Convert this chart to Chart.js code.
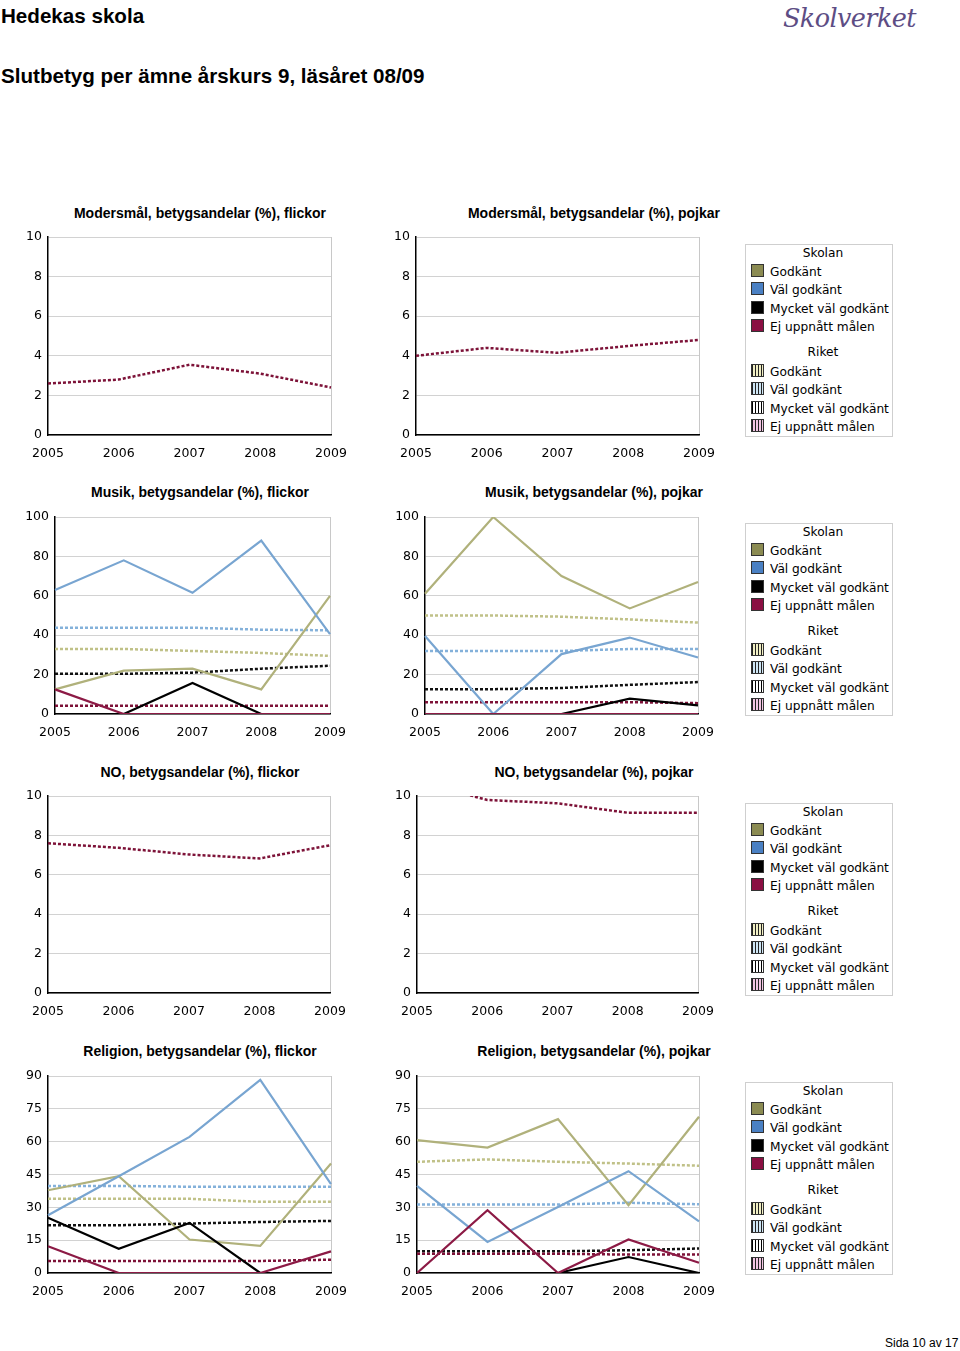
<!DOCTYPE html>
<html>
<head>
<meta charset="utf-8">
<script src="https://cdn.jsdelivr.net/npm/chart.js@4/dist/chart.umd.min.js"></script>
<style>
  body { margin: 0; background: #fff; width: 960px; height: 1351px; position: relative; overflow: hidden;
         font-family: "Liberation Sans", Arial, sans-serif; color: #000; }
  .abs { position: absolute; }
  .head { left: 1px; top: 4px; font-weight: bold; font-size: 20.6px; }
  .title { left: 1px; top: 64px; font-weight: bold; font-size: 20.6px; }
  .logo { left: 783px; top: 3px; font-family: "DejaVu Serif", serif; font-style: italic; font-size: 25.5px;
          color: #5d4d84; letter-spacing: -0.6px; }
  .ctitle { font-weight: bold; font-size: 14px; width: 340px; text-align: center; white-space: nowrap; }
  .foot { left: 885px; top: 1336px; font-size: 12px; }
  .legend { left: 745px; width: 146px; height: 191px; border: 1px solid #cfcfcf;
            font-family: "DejaVu Sans", sans-serif; font-size: 12.2px; }
  .legend .hdr { position: absolute; left: 4px; width: 146px; text-align: center; }
  .legend .it { position: absolute; left: 5px; white-space: nowrap; }
  .legend .sw { display: inline-block; width: 11px; height: 11px; border: 1px solid #333;
                vertical-align: -1px; margin-right: 6px; }
  canvas { position: absolute; }
</style>
</head>
<body>
<div class="abs head">Hedekas skola</div>
<div class="abs logo">Skolverket</div>
<div class="abs title">Slutbetyg per ämne årskurs 9, läsåret 08/09</div>
<div class="abs foot">Sida 10 av 17</div>

<script>
// --- data ---
const years = ["2005", "2006", "2007", "2008", "2009"];

// Modersmål
const modF_riketEj = [2.6, 2.8, 3.55, 3.1, 2.4];
const modP_riketEj = [4.0, 4.4, 4.15, 4.5, 4.8];

// Musik, flickor
const musF_skolanG   = [12.5, 22, 23, 12.5, 60];
const musF_skolanVG  = [63, 78, 61.5, 88, 40.5];
const musF_skolanMVG = [0, 0, 15.7, 0, 0];
const musF_skolanEj  = [12.5, 0, 0, 0, 0];
const musF_riketG    = [33, 33, 32, 31, 29.5];
const musF_riketVG   = [43.8, 43.8, 43.8, 42.8, 42.5];
const musF_riketMVG  = [20.4, 20.4, 21, 23, 24.5];
const musF_riketEj   = [4.2, 4.2, 4.2, 4.2, 4.2];

// Musik, pojkar
const musP_skolanG   = [61, 100, 70, 53.6, 67];
const musP_skolanVG  = [39.6, 0, 30.4, 38.8, 28.7];
const musP_skolanMVG = [0, 0, 0, 7.8, 4.4];
const musP_skolanEj  = [0, 0, 0, 0, 0];
const musP_riketG    = [50, 50, 49.4, 48, 46.4];
const musP_riketVG   = [32, 32, 32, 33, 33];
const musP_riketMVG  = [12.6, 12.6, 13.2, 14.8, 16.2];
const musP_riketEj   = [6, 6, 6, 6, 5.5];

// NO
const noF_riketEj = [7.6, 7.37, 7.03, 6.83, 7.5];
const noP_riketEj = [10.75, 9.8, 9.63, 9.15, 9.15];

// Religion, flickor
const relF_skolanG   = [37.8, 44.2, 15.3, 12.4, 50];
const relF_skolanVG  = [26.4, 44.2, 62.2, 88.2, 40.6];
const relF_skolanMVG = [25.2, 11.1, 22.9, 0, 0];
const relF_skolanEj  = [12.2, 0, 0, 0, 9.9];
const relF_riketG    = [33.9, 33.9, 33.9, 32.5, 32.5];
const relF_riketVG   = [39.8, 39.8, 39.4, 39.4, 39.4];
const relF_riketMVG  = [21.8, 21.8, 22.6, 23.3, 23.8];
const relF_riketEj   = [5.5, 5.5, 5.5, 5.5, 6.1];

// Religion, pojkar
const relP_skolanG   = [60.7, 57.3, 70.3, 31, 71.4];
const relP_skolanVG  = [39.8, 14.2, 30.2, 46.5, 23.6];
const relP_skolanMVG = [0, 0, 0, 7.3, 0];
const relP_skolanEj  = [0, 28.7, 0, 15.3, 4.7];
const relP_riketG    = [50.8, 51.9, 50.8, 50, 49];
const relP_riketVG   = [31.3, 31.3, 31.3, 32.1, 31.4];
const relP_riketMVG  = [9.9, 9.9, 9.9, 10.4, 11.2];
const relP_riketEj   = [8.8, 8.8, 8.8, 8.4, 8.4];

const legendLabels = ["Godkänt", "Väl godkänt", "Mycket väl godkänt", "Ej uppnått målen"];

// line styles per series
const STYLE = {
    sG:   { color: "#b0b17b", dash: [] },
    sVG:  { color: "#78a5d1", dash: [] },
    sMVG: { color: "#000000", dash: [] },
    sEj:  { color: "#8c1a45", dash: [] },
    rG:   { color: "#c0c188", dash: [3, 2] },
    rVG:  { color: "#84b1da", dash: [3, 2] },
    rMVG: { color: "#111111", dash: [3, 2] },
    rEj:  { color: "#7d1238", dash: [3, 2] },
};

function makeChart(rect, yMax, step, series) {
    const padTop = 18, padRight = 34, axisW = 45, xAxisH = 30;
    const cv = document.createElement("canvas");
    const w = rect.R - rect.L + axisW + padRight;
    const h = rect.B - rect.T + padTop + xAxisH;
    cv.style.left = (rect.L - axisW) + "px";
    cv.style.top = (rect.T - padTop) + "px";
    cv.style.width = w + "px";
    cv.style.height = h + "px";
    cv.width = w; cv.height = h;
    document.body.appendChild(cv);

    const datasets = series.map(([key, data]) => ({
        data: data,
        borderColor: STYLE[key].color,
        borderDash: STYLE[key].dash,
        borderWidth: STYLE[key].dash.length ? 2.5 : 2.2,
        pointRadius: 0,
        tension: 0,
        fill: false,
    }));

    new Chart(cv, {
        type: "line",
        data: { labels: years, datasets: datasets },
        options: {
            responsive: false,
            animation: false,
            events: [],
            layout: { padding: { top: padTop, right: padRight, left: 0, bottom: 0 } },
            plugins: { legend: { display: false }, tooltip: { enabled: false } },
            scales: {
                x: {
                    offset: false,
                    afterFit: (s) => { s.height = xAxisH; },
                    grid: {
                        drawTicks: false,
                        color: (c) => (c.index === years.length - 1 ? "#c8c8c8" : "transparent"),
                    },
                    border: { color: "#000", width: 1.5 },
                    ticks: { color: "#000", padding: 11, maxRotation: 0,
                             font: { family: "DejaVu Sans", size: 12.5 } },
                },
                y: {
                    min: 0, max: yMax,
                    afterFit: (s) => { s.width = axisW; },
                    grid: { drawTicks: false, color: "#d2d2d2" },
                    border: { color: "#000", width: 1.5 },
                    ticks: { stepSize: step, color: "#000", padding: 6,
                             font: { family: "DejaVu Sans", size: 12.5 } },
                },
            },
        },
    });
}

function addTitle(text, cx, cy) {
    const d = document.createElement("div");
    d.className = "abs ctitle";
    d.textContent = text;
    d.style.left = (cx - 170) + "px";
    d.style.top = (cy - 8) + "px";
    document.body.appendChild(d);
}

function addLegend(top) {
    const box = document.createElement("div");
    box.className = "abs legend";
    box.style.top = top + "px";
    const solid = ["#8b8b52", "#4a80c3", "#000000", "#8a0f42"];
    const hatch = [
        "repeating-linear-gradient(90deg, #222 0 1px, #f1efc4 1px 3px)",
        "repeating-linear-gradient(90deg, #222 0 1px, #cfe6f5 1px 3px)",
        "repeating-linear-gradient(90deg, #000 0 1px, #ffffff 1px 3px)",
        "repeating-linear-gradient(90deg, #222 0 1px, #f3c6e4 1px 3px)",
    ];
    let html = '<div class="hdr" style="top:1px">Skolan</div>';
    legendLabels.forEach((lab, i) => {
        html += '<div class="it" style="top:' + (19 + i * 18.3) + 'px"><span class="sw" style="background:' +
            solid[i] + '"></span>' + lab + '</div>';
    });
    html += '<div class="hdr" style="top:100px">Riket</div>';
    legendLabels.forEach((lab, i) => {
        html += '<div class="it" style="top:' + (119 + i * 18.3) + 'px"><span class="sw" style="background:' +
            hatch[i] + '"></span>' + lab + '</div>';
    });
    box.innerHTML = html;
    document.body.appendChild(box);
}

// --- rows ---
const leftCx = 200, rightCx = 594;

// Modersmål
addTitle("Modersmål, betygsandelar (%), flickor", leftCx, 213);
addTitle("Modersmål, betygsandelar (%), pojkar", rightCx, 213);
makeChart({ L: 48, R: 331, T: 237, B: 435 }, 10, 2, [["rEj", modF_riketEj]]);
makeChart({ L: 416, R: 699, T: 237, B: 435 }, 10, 2, [["rEj", modP_riketEj]]);
addLegend(244);

// Musik
addTitle("Musik, betygsandelar (%), flickor", leftCx, 492);
addTitle("Musik, betygsandelar (%), pojkar", rightCx, 492);
makeChart({ L: 55, R: 330, T: 517, B: 714 }, 100, 20, [
    ["sEj", musF_skolanEj], ["sMVG", musF_skolanMVG], ["sVG", musF_skolanVG], ["sG", musF_skolanG],
    ["rEj", musF_riketEj], ["rMVG", musF_riketMVG], ["rVG", musF_riketVG], ["rG", musF_riketG],
]);
makeChart({ L: 425, R: 698, T: 517, B: 714 }, 100, 20, [
    ["sEj", musP_skolanEj], ["sMVG", musP_skolanMVG], ["sVG", musP_skolanVG], ["sG", musP_skolanG],
    ["rEj", musP_riketEj], ["rMVG", musP_riketMVG], ["rVG", musP_riketVG], ["rG", musP_riketG],
]);
addLegend(523);

// NO
addTitle("NO, betygsandelar (%), flickor", leftCx, 772);
addTitle("NO, betygsandelar (%), pojkar", rightCx, 772);
makeChart({ L: 48, R: 330, T: 796, B: 993 }, 10, 2, [["rEj", noF_riketEj]]);
makeChart({ L: 417, R: 698, T: 796, B: 993 }, 10, 2, [["rEj", noP_riketEj]]);
addLegend(803);

// Religion
addTitle("Religion, betygsandelar (%), flickor", leftCx, 1051);
addTitle("Religion, betygsandelar (%), pojkar", rightCx, 1051);
makeChart({ L: 48, R: 331, T: 1076, B: 1273 }, 90, 15, [
    ["sEj", relF_skolanEj], ["sMVG", relF_skolanMVG], ["sVG", relF_skolanVG], ["sG", relF_skolanG],
    ["rEj", relF_riketEj], ["rMVG", relF_riketMVG], ["rVG", relF_riketVG], ["rG", relF_riketG],
]);
makeChart({ L: 417, R: 699, T: 1076, B: 1273 }, 90, 15, [
    ["sEj", relP_skolanEj], ["sMVG", relP_skolanMVG], ["sVG", relP_skolanVG], ["sG", relP_skolanG],
    ["rEj", relP_riketEj], ["rMVG", relP_riketMVG], ["rVG", relP_riketVG], ["rG", relP_riketG],
]);
addLegend(1082);
</script>
</body>
</html>
